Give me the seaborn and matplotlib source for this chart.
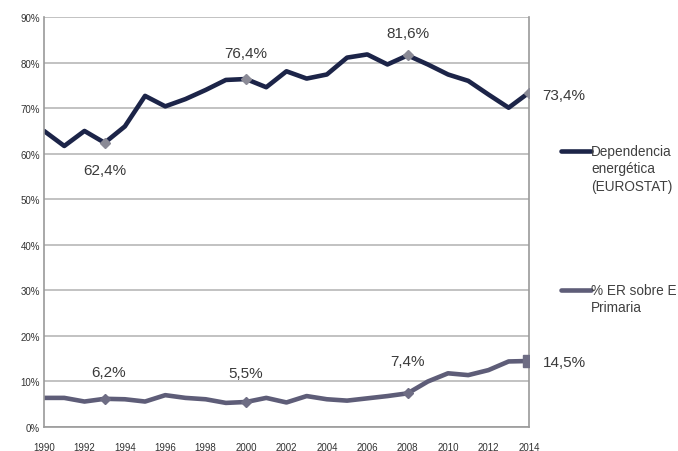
import matplotlib
matplotlib.use("Agg")
import matplotlib.pyplot as plt
import seaborn as sns
import pandas as pd
from matplotlib.lines import Line2D

years = list(range(1990, 2015))
dependencia = [65.0, 61.7, 65.0, 62.4, 66.0, 72.7, 70.4, 72.0, 74.0, 76.2, 76.4, 74.6,
               78.1, 76.5, 77.4, 81.1, 81.8, 79.6, 81.6, 79.6, 77.4, 76.0, 73.0, 70.1, 73.4]
renovables = [6.4, 6.4, 5.6, 6.2, 6.1, 5.6, 7.0, 6.4, 6.1, 5.3, 5.5, 6.4,
              5.4, 6.8, 6.1, 5.8, 6.3, 6.8, 7.4, 10.0, 11.8, 11.4, 12.5, 14.4, 14.5]
series_names = ["Dependencia\nenergética\n(EUROSTAT)", "% ER sobre E\nPrimaria"]
series_colors = ["#1c2448", "#5e5d78"]
dep_labels = {1993: "62,4%", 2000: "76,4%", 2008: "81,6%", 2014: "73,4%"}
er_labels = {1993: "6,2%", 2000: "5,5%", 2008: "7,4%", 2014: "14,5%"}
y_ticks = list(range(0, 91, 10))
x_ticks = list(range(1990, 2015, 2))

df = pd.DataFrame({
    "year": years * 2,
    "value": dependencia + renovables,
    "serie": [series_names[0]] * len(years) + [series_names[1]] * len(years),
})

sns.set_theme(style="white")
plt.rcParams["font.family"] = ["Liberation Sans", "DejaVu Sans"]

fig = plt.figure(figsize=(6.78, 4.52), dpi=100)
ax = fig.add_axes([0.065, 0.053, 0.715, 0.907])

sns.lineplot(data=df, x="year", y="value", hue="serie", palette=series_colors,
             hue_order=series_names, linewidth=3.3, ax=ax, legend=False,
             solid_joinstyle="round")

# highlighted points
for yr in dep_labels:
    v = dependencia[years.index(yr)]
    ax.plot(yr, v, marker="D", ms=5, color="#8a8a96", zorder=5)
for yr in er_labels:
    v = renovables[years.index(yr)]
    mk = "s" if yr == 2014 else "D"
    ms = 8.5 if yr == 2014 else 5
    ax.plot(yr, v, marker=mk, ms=ms, color="#6e6d84", zorder=5)

txt = dict(fontsize=11, color="#3a3a3a", va="center")
ax.text(1993, dependencia[years.index(1993)] - 6.0, dep_labels[1993], ha="center", **txt)
ax.text(2000, dependencia[years.index(2000)] + 5.8, dep_labels[2000], ha="center", **txt)
ax.text(2008, dependencia[years.index(2008)] + 5.0, dep_labels[2008], ha="center", **txt)
ax.text(2014.65, dependencia[years.index(2014)] - 0.6, dep_labels[2014], ha="left", **txt)
ax.text(1993.2, renovables[years.index(1993)] + 5.9, er_labels[1993], ha="center", **txt)
ax.text(2000, renovables[years.index(2000)] + 6.3, er_labels[2000], ha="center", **txt)
ax.text(2008, renovables[years.index(2008)] + 7.1, er_labels[2008], ha="center", **txt)
ax.text(2014.7, renovables[years.index(2014)] - 0.2, er_labels[2014], ha="left", **txt)

ax.set_xlim(1990, 2014)
ax.set_ylim(0, 90)
ax.set_yticks(y_ticks)
ax.set_yticklabels([f"{t}%" for t in y_ticks])
ax.set_xticks(x_ticks)
ax.set_xticks(years, minor=True)
ax.set_xlabel("")
ax.set_ylabel("")
ax.grid(axis="y", color="#b8b8b8", linewidth=1.2)
ax.set_axisbelow(True)
ax.tick_params(axis="both", labelsize=7, colors="#333333", length=0, pad=3)
ax.tick_params(axis="x", which="both", length=3, direction="inout", color="#888888", pad=9)
for side in ["left", "right", "bottom"]:
    ax.spines[side].set_color("#9a9a9a")
    ax.spines[side].set_linewidth(1.2)
ax.spines["top"].set_visible(False)

# legend entries on the right: handle aligned with the first text line
H = 452.0
legend_rows = [(series_names[0], series_colors[0], 152), (series_names[1], series_colors[1], 291)]
for name, color, ypix in legend_rows:
    yf = 1 - ypix / H
    fig.add_artist(Line2D([561 / 678, 591 / 678], [yf, yf], color=color, lw=3.3,
                          transform=fig.transFigure))
    fig.text(591 / 678, 1 - (ypix - 7) / H, name, fontsize=9.8, color="#404040",
             ha="left", va="top", linespacing=1.3)

fig.savefig("out.png", dpi=100)
